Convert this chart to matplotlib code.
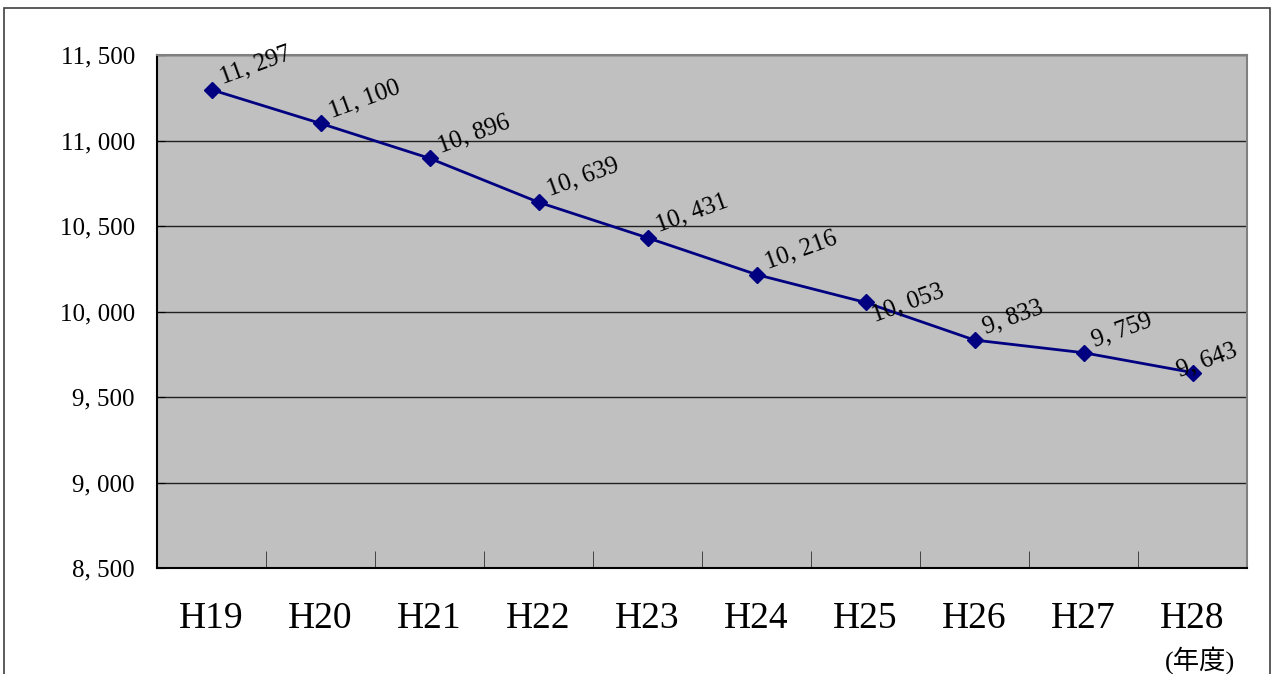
import matplotlib.pyplot as plt
from matplotlib.patches import Rectangle

plt.rcParams['font.family'] = ['Liberation Serif', 'Noto Sans CJK JP']

years = ['H19', 'H20', 'H21', 'H22', 'H23', 'H24', 'H25', 'H26', 'H27', 'H28']
values = [11297, 11100, 10896, 10639, 10431, 10216, 10053, 9833, 9759, 9643]
yticks = [8500, 9000, 9500, 10000, 10500, 11000, 11500]

fig = plt.figure(figsize=(12.76, 6.74), dpi=100)
ax = fig.add_axes([157/1276, 1 - 568/674, 1090/1276, 513/674])

# outer frame of the chart object
fig.patches.append(Rectangle((4/1276, -0.05), 1266/1276, 1.05 - 8/674,
                             transform=fig.transFigure, fill=False,
                             edgecolor='#404040', linewidth=1.2))

ax.set_facecolor('#c0c0c0')
x = list(range(len(years)))
ax.plot(x, values, color='#000080', linewidth=2, marker='D', markersize=8,
        markerfacecolor='#000080', markeredgecolor='#000080', zorder=3)

# label offsets (points); a couple are placed differently in the original
offsets = {6: (8, -17), 9: (-8, -6)}
for i, v in enumerate(values):
    dx, dy = offsets.get(i, (9, 1))
    ax.annotate(f'{v:,}'.replace(',', ', '), (i, v), xytext=(dx, dy),
                textcoords='offset points', rotation=20, fontsize=18,
                ha='left', va='bottom', rotation_mode='anchor')

ax.set_xlim(-0.5, len(years) - 0.5)
ax.set_ylim(8500, 11500)
ax.set_yticks(yticks)
ax.set_yticklabels([f'{t:,}'.replace(',', ', ') for t in yticks], fontsize=18)
ax.yaxis.grid(True, color='#202020', linewidth=1)
ax.set_axisbelow(True)
ax.tick_params(axis='y', direction='in', length=6, pad=16)

ax.set_xticks(x)
ax.set_xticklabels(years, fontsize=27)
ax.set_xticks([i + 0.5 for i in x], minor=True)
ax.tick_params(axis='x', which='major', length=0, pad=24)
ax.tick_params(axis='x', which='minor', direction='in', length=12, color='#303030')

for s in ['left', 'bottom']:
    ax.spines[s].set_color('black')
    ax.spines[s].set_linewidth(1.5)
for s in ['top', 'right']:
    ax.spines[s].set_color('#808080')
    ax.spines[s].set_linewidth(1.5)

fig.text(1200/1276, 1 - 660/674, '(年度)', fontsize=19, ha='center', va='center')

fig.savefig('out.png', dpi=100)
